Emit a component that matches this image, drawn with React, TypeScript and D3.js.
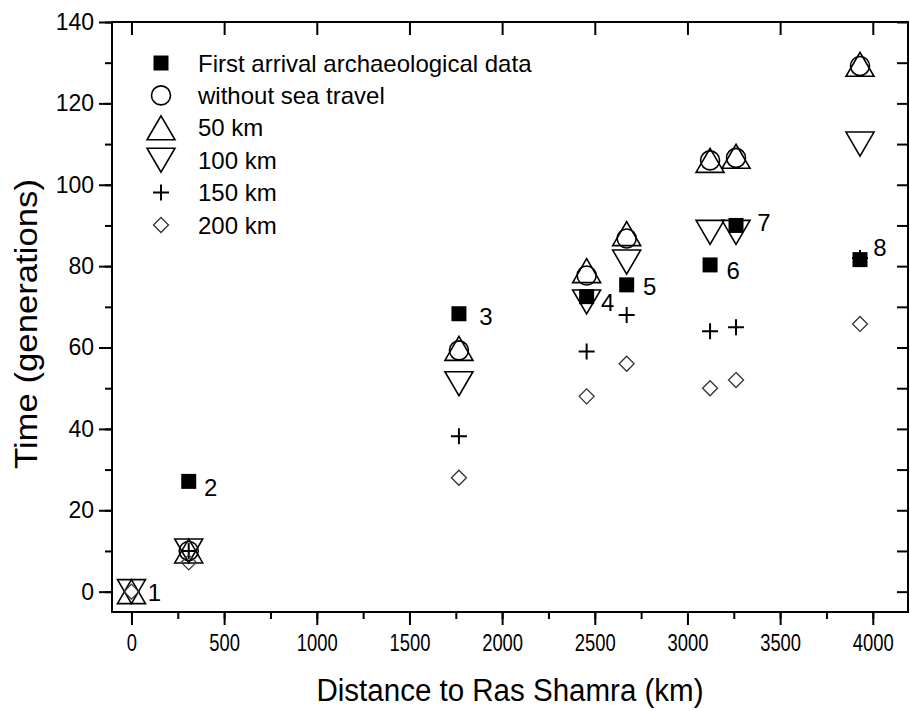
import { useRef, useEffect } from "react";
import * as d3 from "d3";

// site numbers and distance to Ras Shamra (km)
const sites = ["1", "2", "3", "4", "5", "6", "7", "8"];
const distance = [0, 309, 1767, 2456, 2672, 3122, 3262, 3931];

// time of arrival (generations)
const firstArrival = [null, 27.1, 68.3, 72.5, 75.4, 80.3, 90, 81.6];
const withoutSea = [null, 10, 59.3, 77.7, 86.8, 106, 106.6, 129.2];
const sea50 = [0, 10, 59.8, 78.9, 88, 106, 107, 129.6];
const sea100 = [0, 10, 51.1, 71.2, 81, 88.3, 88.3, 110];
const sea150 = [null, 10, 38.2, 59, 68, 64, 65, 82];
const sea200 = [0, 7.2, 28, 48, 56, 50, 52, 65.8];

const legendLabels = [
  "First arrival archaeological data",
  "without sea travel",
  "50 km",
  "100 km",
  "150 km",
  "200 km",
];
const xTicks = [0, 500, 1000, 1500, 2000, 2500, 3000, 3500, 4000];
const yTicks = [0, 20, 40, 60, 80, 100, 120, 140];

// hand placed site labels, offset in px from the marker
const labelOffsets = [
  [23, 1], [22, 6], [27, 3], [21, 6], [23, 2], [23, 6], [28, -3], [20, -12],
];

const FONT = "'Liberation Sans', Arial, sans-serif";

// marker outlines centred on 0,0
const markerPath = (shape: string) => {
  switch (shape) {
    case "square":
      return "M-7.5,-7.5H7.5V7.5H-7.5Z";
    case "circle":
      return "M-9.5,0A9.5,9.5 0 1,0 9.5,0A9.5,9.5 0 1,0 -9.5,0Z";
    case "up":
      return "M0,-12L14,12L-14,12Z";
    case "down":
      return "M0,12L14,-12L-14,-12Z";
    case "plus":
      return "M-8,0H8M0,-8V8";
    case "diamond":
      return "M0,-7.5L7.5,0L0,7.5L-7.5,0Z";
  }
  return "";
};

const series = [
  { values: firstArrival, shape: "square", fill: "#000", stroke: "none", sw: 0 },
  { values: withoutSea, shape: "circle", fill: "none", stroke: "#000", sw: 1.6 },
  { values: sea50, shape: "up", fill: "none", stroke: "#000", sw: 1.6 },
  { values: sea100, shape: "down", fill: "none", stroke: "#000", sw: 1.6 },
  { values: sea150, shape: "plus", fill: "none", stroke: "#000", sw: 2 },
  { values: sea200, shape: "diamond", fill: "none", stroke: "#333", sw: 1.3 },
];

export default function App() {
  const ref = useRef<SVGSVGElement>(null);

  useEffect(() => {
    const svg = d3.select(ref.current);
    svg.selectAll("*").remove();

    const left = 112, right = 908, top = 22, bottom = 612;
    const x = d3.scaleLinear().domain([-105, 4190]).range([left, right]);
    const y = d3.scaleLinear().domain([-5, 140]).range([bottom, top]);

    const g = svg.append("g");

    // bottom axis
    const bx = g.append("g").attr("transform", `translate(0,${bottom})`);
    bx.call(
      d3.axisBottom(x).tickValues(d3.range(0, 4001, 250)).tickSize(7).tickFormat(() => "")
    );
    bx.call((s) => s.select(".domain").remove());
    const bxMajor = g.append("g").attr("transform", `translate(0,${bottom})`);
    bxMajor.call(
      d3.axisBottom(x).tickValues(xTicks).tickSize(13).tickPadding(10).tickFormat(d3.format("d"))
    );
    bxMajor.call((s) => s.select(".domain").remove());
    bxMajor
      .selectAll("text")
      .attr("font-size", 23)
      .attr("font-family", FONT)
      .attr("transform", "scale(0.8,1)");

    // left axis
    const ly = g.append("g").attr("transform", `translate(${left},0)`);
    ly.call(d3.axisLeft(y).tickValues(d3.range(0, 141, 10)).tickSize(7).tickFormat(() => ""));
    ly.call((s) => s.select(".domain").remove());
    const lyMajor = g.append("g").attr("transform", `translate(${left},0)`);
    lyMajor.call(d3.axisLeft(y).tickValues(yTicks).tickSize(13).tickPadding(5));
    lyMajor.call((s) => s.select(".domain").remove());
    lyMajor.selectAll("text").attr("font-size", 23).attr("font-family", FONT);

    // top and right ticks point inward
    const tx = g.append("g").attr("transform", `translate(0,${top})`);
    tx.call(d3.axisBottom(x).tickValues(xTicks).tickSize(13).tickFormat(() => ""));
    tx.call((s) => s.select(".domain").remove());
    const ry = g.append("g").attr("transform", `translate(${right},0)`);
    ry.call(d3.axisLeft(y).tickValues(d3.range(0, 141, 10)).tickSize(11).tickFormat(() => ""));
    ry.call((s) => s.select(".domain").remove());

    g.selectAll(".tick line").attr("stroke", "#000").attr("stroke-width", 2);
    g.selectAll(".tick text").attr("fill", "#000");

    // frame
    g.append("rect")
      .attr("x", left)
      .attr("y", top)
      .attr("width", right - left)
      .attr("height", bottom - top)
      .attr("fill", "none")
      .attr("stroke", "#000")
      .attr("stroke-width", 2);

    // axis titles
    g.append("text")
      .attr("x", (left + right) / 2)
      .attr("y", 701)
      .attr("text-anchor", "middle")
      .attr("font-family", FONT)
      .attr("font-size", 31)
      .attr("textLength", 387)
      .attr("lengthAdjust", "spacingAndGlyphs")
      .text("Distance to Ras Shamra (km)");
    g.append("text")
      .attr("transform", `translate(37,324) rotate(-90)`)
      .attr("text-anchor", "middle")
      .attr("font-family", FONT)
      .attr("font-size", 31)
      .attr("textLength", 290)
      .attr("lengthAdjust", "spacingAndGlyphs")
      .text("Time (generations)");

    // markers
    series.forEach((s) => {
      g.append("g")
        .selectAll("path")
        .data(s.values.map((v, i) => ({ v, d: distance[i] })).filter((p) => p.v != null))
        .enter()
        .append("path")
        .attr("transform", (p) => `translate(${x(p.d)},${y(p.v as number)})`)
        .attr("d", markerPath(s.shape))
        .attr("fill", s.fill)
        .attr("stroke", s.stroke)
        .attr("stroke-width", s.sw);
    });

    // site labels next to the first arrival square (or the origin point)
    g.append("g")
      .selectAll("text")
      .data(sites)
      .enter()
      .append("text")
      .attr("x", (_, i) => x(distance[i]) + labelOffsets[i][0])
      .attr("y", (_, i) => y((firstArrival[i] ?? sea50[i]) as number) + labelOffsets[i][1])
      .attr("text-anchor", "middle")
      .attr("dominant-baseline", "central")
      .attr("font-family", FONT)
      .attr("font-size", 24)
      .text((d) => d);

    // legend
    const legend = g.append("g");
    legendLabels.forEach((label, i) => {
      const ly0 = 63 + i * 32.4;
      const s = series[i];
      legend
        .append("path")
        .attr("transform", `translate(161,${ly0})`)
        .attr("d", markerPath(s.shape))
        .attr("fill", s.fill)
        .attr("stroke", s.stroke)
        .attr("stroke-width", s.sw);
      legend
        .append("text")
        .attr("x", 198)
        .attr("y", ly0)
        .attr("dominant-baseline", "central")
        .attr("font-family", FONT)
        .attr("font-size", 24)
        .text(label);
    });
  }, []);

  return (
    <svg
      ref={ref}
      width={910}
      height={711}
      style={{ position: "absolute", left: 0, top: 0, background: "#fff" }}
    ></svg>
  );
}
